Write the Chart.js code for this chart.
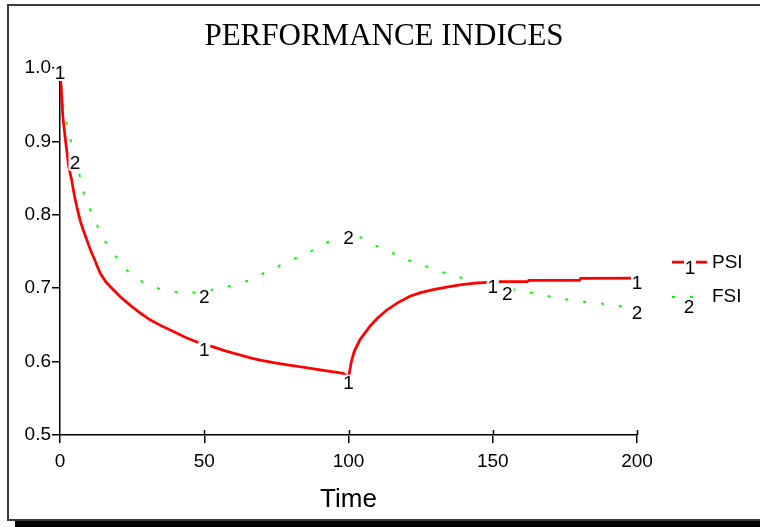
<!DOCTYPE html>
<html>
<head>
<meta charset="utf-8">
<script src="https://cdn.jsdelivr.net/npm/chart.js@4/dist/chart.umd.min.js"></script>
<style>
  html, body { margin: 0; padding: 0; background: #ffffff; }
  #c { display: block; }
</style>
</head>
<body>
<canvas id="c" width="760" height="527"></canvas>
<script>
// Performance indices over simulated time
const TIME_PSI = [0, 1, 2, 3, 4, 5, 6, 7, 8, 9, 10, 11, 12, 13, 14, 16, 18.5, 21, 24.3, 27.5,
  31.2, 35, 40.4, 44, 47.9, 50, 53.1, 57, 62.4, 66, 69.3, 75, 80, 83.2, 88, 93, 98.2, 100,
  101, 102, 104, 107.4, 110, 113.2, 117, 121.3, 125, 129.4, 134, 138.6, 143, 147.9, 152.5,
  162, 162.5, 180, 180.5, 200];
const PSI = [1.0, 0.933, 0.898, 0.866, 0.848, 0.826, 0.808, 0.792, 0.780, 0.769, 0.758, 0.748,
  0.739, 0.729, 0.720, 0.708, 0.698, 0.688, 0.677, 0.667, 0.657, 0.649, 0.639, 0.632, 0.626,
  0.623, 0.620, 0.615, 0.609, 0.605, 0.602, 0.598, 0.595, 0.593, 0.590, 0.587, 0.584, 0.578,
  0.600, 0.614, 0.630, 0.648, 0.659, 0.670, 0.680, 0.689, 0.694, 0.698, 0.7015, 0.7045,
  0.7065, 0.708, 0.709, 0.709, 0.7105, 0.7105, 0.7135, 0.7137];

const TIME_FSI = [0, 1.2, 2.3, 3.8, 5.2, 6.9, 8.4, 10.7, 13.3, 16.2, 19.9, 23.9, 28.9, 34.7,
  40.8, 47.4, 50, 53.4, 59.3, 65.3, 72, 80, 87.4, 93.2, 100, 103.9, 109.5, 115.2, 120.9,
  126.7, 132.6, 138.4, 144.3, 152, 162.3, 168, 174.2, 180.2, 186.5, 192.6, 200];
const FSI = [1.0, 0.948, 0.925, 0.900, 0.878, 0.852, 0.827, 0.8045, 0.782, 0.760, 0.740,
  0.7214, 0.7077, 0.6987, 0.6946, 0.694, 0.6945, 0.6987, 0.7032, 0.7104, 0.723, 0.738,
  0.7513, 0.7636, 0.775, 0.7696, 0.758, 0.748, 0.738, 0.730, 0.7219, 0.715, 0.7086, 0.702,
  0.6946, 0.690, 0.6855, 0.6818, 0.6796, 0.6763, 0.673];

// Times at which each curve carries its series number
const PSI_MARK_TIMES = [0, 50, 100, 150, 200];
const FSI_MARK_TIMES = [5.2, 50, 100, 155, 200];

const X_TICKS = [0, 50, 100, 150, 200];
const Y_TICKS = [0.5, 0.6, 0.7, 0.8, 0.9, 1.0];

const TITLE = 'PERFORMANCE INDICES';
const X_TITLE = 'Time';
const SERIES_NAMES = ['PSI', 'FSI'];

const SANS = "'Liberation Sans', Arial, sans-serif";
const SERIF = "'Liberation Serif', 'Times New Roman', serif";
const RED = '#ff0000';
const GREEN = '#00ff00';
const GREEN_DASH = [3, 15];

function pairs(xs, ys) { return xs.map((x, i) => ({ x: x, y: ys[i] })); }

function valueAt(xs, ys, t) {
  for (let i = 0; i < xs.length - 1; i++) {
    if (t >= xs[i] && t <= xs[i + 1]) {
      const f = xs[i + 1] === xs[i] ? 0 : (t - xs[i]) / (xs[i + 1] - xs[i]);
      return ys[i] + f * (ys[i + 1] - ys[i]);
    }
  }
  return ys[ys.length - 1];
}

// number written on a curve, with a white knock-out behind it
function curveNumber(ctx, text, cx, cy) {
  ctx.save();
  ctx.font = '19px ' + SANS;
  ctx.textAlign = 'center';
  ctx.textBaseline = 'middle';
  const m = ctx.measureText(text);
  const w = m.actualBoundingBoxLeft + m.actualBoundingBoxRight + 3;
  const h = 16;
  ctx.fillStyle = '#ffffff';
  ctx.fillRect(cx - w / 2, cy - h / 2, w, h);
  ctx.fillStyle = '#000000';
  ctx.fillText(text, cx, cy + 1);
  ctx.restore();
}

const decor = {
  id: 'decor',
  beforeDraw(chart) {
    const ctx = chart.ctx;
    ctx.save();
    ctx.fillStyle = '#ffffff';
    ctx.fillRect(0, 0, chart.width, chart.height);
    // framed panel with a drop shadow along the bottom
    ctx.fillStyle = '#000000';
    ctx.fillRect(15, 521, chart.width - 15, 6);
    ctx.strokeStyle = '#3a3a3a';
    ctx.lineWidth = 2;
    ctx.strokeRect(8, 5, chart.width + 20, 515);
    // title
    ctx.fillStyle = '#000000';
    ctx.font = '31px ' + SERIF;
    ctx.textAlign = 'center';
    ctx.textBaseline = 'alphabetic';
    ctx.fillText(TITLE, 384, 45);
    // x axis title
    const xs = chart.scales.x;
    ctx.font = '26px ' + SANS;
    ctx.fillText(X_TITLE, (xs.left + xs.right) / 2, 507);
    ctx.restore();
  },
  afterDatasetsDraw(chart) {
    const ctx = chart.ctx;
    const xs = chart.scales.x, ys = chart.scales.y;
    const off = 5;
    PSI_MARK_TIMES.forEach(t => {
      curveNumber(ctx, '1', xs.getPixelForValue(t), ys.getPixelForValue(valueAt(TIME_PSI, PSI, t)) + off);
    });
    FSI_MARK_TIMES.forEach(t => {
      curveNumber(ctx, '2', xs.getPixelForValue(t), ys.getPixelForValue(valueAt(TIME_FSI, FSI, t)) + off);
    });
    // upper halves of the x ticks, crossing the axis line
    ctx.save();
    ctx.strokeStyle = '#000000';
    ctx.lineWidth = 1.5;
    X_TICKS.slice(1).forEach(v => {
      const px = Math.round(xs.getPixelForValue(v)) + 0.5;
      ctx.beginPath();
      ctx.moveTo(px, ys.bottom - 5);
      ctx.lineTo(px, ys.bottom);
      ctx.stroke();
    });
    // key
    ctx.font = '19px ' + SANS;
    ctx.textAlign = 'left';
    ctx.textBaseline = 'middle';
    ctx.strokeStyle = RED;
    ctx.lineWidth = 2.75;
    ctx.beginPath(); ctx.moveTo(672, 262); ctx.lineTo(707, 262); ctx.stroke();
    ctx.strokeStyle = GREEN;
    ctx.lineWidth = 2;
    ctx.setLineDash(GREEN_DASH);
    ctx.beginPath(); ctx.moveTo(672, 297); ctx.lineTo(707, 297); ctx.stroke();
    ctx.setLineDash([]);
    ctx.fillStyle = '#000000';
    ctx.fillText(SERIES_NAMES[0], 712, 263);
    ctx.fillText(SERIES_NAMES[1], 712, 297);
    ctx.restore();
    curveNumber(ctx, '1', 690, 268);
    curveNumber(ctx, '2', 689, 307);
  }
};

Chart.defaults.font.family = SANS;
Chart.defaults.font.size = 19;
Chart.defaults.color = '#000000';

new Chart(document.getElementById('c'), {
  type: 'line',
  data: {
    datasets: [
      {
        label: SERIES_NAMES[0],
        data: pairs(TIME_PSI, PSI),
        borderColor: RED,
        borderWidth: 2.75,
        pointRadius: 0,
        tension: 0,
        fill: false
      },
      {
        label: SERIES_NAMES[1],
        data: pairs(TIME_FSI, FSI),
        borderColor: GREEN,
        borderWidth: 2,
        borderDash: GREEN_DASH,
        pointRadius: 0,
        tension: 0,
        fill: false
      }
    ]
  },
  options: {
    responsive: false,
    animation: false,
    devicePixelRatio: 1,
    layout: { padding: { top: 68, right: 123, bottom: 0, left: 0 } },
    plugins: { legend: { display: false }, title: { display: false }, tooltip: { enabled: false } },
    scales: {
      x: {
        type: 'linear',
        min: 0,
        max: 200,
        afterBuildTicks(scale) { scale.ticks = X_TICKS.map(v => ({ value: v })); },
        afterFit(scale) { scale.height = 92; },
        ticks: { padding: 7, font: { size: 19 }, maxRotation: 0 },
        grid: { drawOnChartArea: false, drawTicks: true, tickLength: 8, color: '#000000', lineWidth: 1.5 },
        border: { display: true, color: '#000000', width: 1.5 }
      },
      y: {
        type: 'linear',
        min: 0.5,
        max: 1.0,
        afterBuildTicks(scale) { scale.ticks = Y_TICKS.map(v => ({ value: v })); },
        afterFit(scale) { scale.width = 60; },
        ticks: { padding: 1, font: { size: 19 }, callback: v => v.toFixed(1) },
        grid: { drawOnChartArea: false, drawTicks: true, tickLength: 8, color: '#000000', lineWidth: 1.5 },
        border: { display: true, color: '#000000', width: 1.5 }
      }
    }
  },
  plugins: [decor]
});
</script>
</body>
</html>
